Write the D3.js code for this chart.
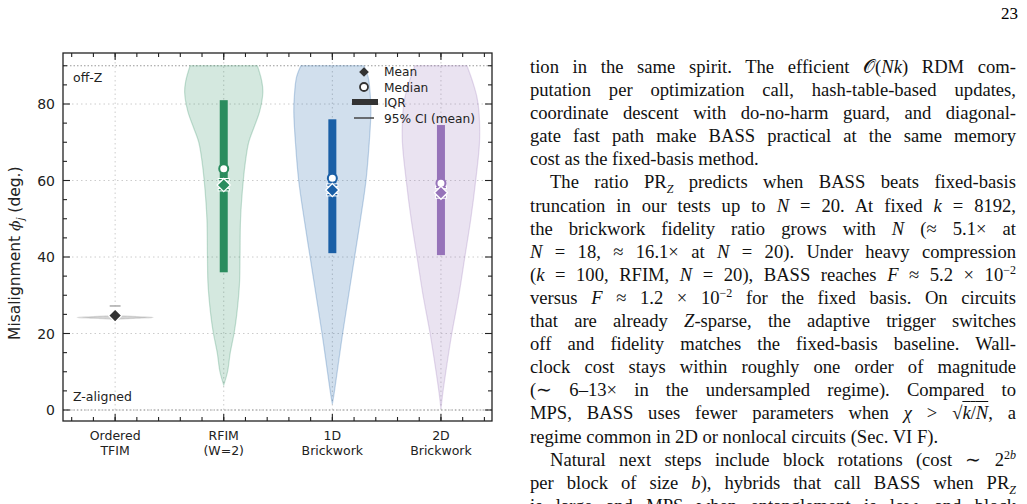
<!DOCTYPE html>
<html><head><meta charset="utf-8">
<script src="https://cdn.jsdelivr.net/npm/d3@7"></script>
<style>
body{margin:0;width:1027px;height:504px;background:#fff;overflow:hidden;position:relative}
#chart{position:absolute;left:0;top:0}
.pg{position:absolute;right:9px;top:4px;font:17px "Liberation Serif",serif}
#txt{position:absolute;left:530px;top:55px;width:486px;font:18.6px "Liberation Serif",serif;color:#111}
#txt div{height:23.1px;line-height:23.1px;text-align:justify;text-align-last:justify;white-space:nowrap}
#txt div.last{text-align-last:left}
#txt div.ind{padding-left:20px}
i{font-style:italic}
sub,sup{font-size:12px;line-height:0}
</style></head><body>
<div class="pg">23</div>
<div id="chart"></div>
<div id="txt">
<div>tion in the same spirit. The efficient 𝒪(<i>Nk</i>) RDM com-</div>
<div>putation per optimization call, hash-table-based updates,</div>
<div>coordinate descent with do-no-harm guard, and diagonal-</div>
<div>gate fast path make BASS practical at the same memory</div>
<div class="last">cost as the fixed-basis method.</div>
<div class="ind">The ratio PR<sub><i>Z</i></sub> predicts when BASS beats fixed-basis</div>
<div>truncation in our tests up to <i>N</i> = 20. At fixed <i>k</i> = 8192,</div>
<div>the brickwork fidelity ratio grows with <i>N</i> (≈ 5.1× at</div>
<div><i>N</i> = 18, ≈ 16.1× at <i>N</i> = 20). Under heavy compression</div>
<div>(<i>k</i> = 100, RFIM, <i>N</i> = 20), BASS reaches <i>F</i> ≈ 5.2 × 10<sup>−2</sup></div>
<div>versus <i>F</i> ≈ 1.2 × 10<sup>−2</sup> for the fixed basis. On circuits</div>
<div>that are already <i>Z</i>-sparse, the adaptive trigger switches</div>
<div>off and fidelity matches the fixed-basis baseline. Wall-</div>
<div>clock cost stays within roughly one order of magnitude</div>
<div>(∼ 6–13× in the undersampled regime). Compared to</div>
<div>MPS, BASS uses fewer parameters when <i>χ</i> &gt; √<span style="text-decoration:overline"><i>k</i>/<i>N</i></span>, a</div>
<div class="last">regime common in 2D or nonlocal circuits (Sec. VI F).</div>
<div class="ind">Natural next steps include block rotations (cost ∼ 2<sup>2<i>b</i></sup></div>
<div>per block of size <i>b</i>), hybrids that call BASS when PR<sub><i>Z</i></sub></div>
<div>is large and MPS when entanglement is low, and block</div>
</div>
<script>
const categories = ['Ordered\nTFIM', 'RFIM\n(W=2)', '1D\nBrickwork', '2D\nBrickwork'];
const colors = ['#888888', '#2a8c5e', '#1a5fa6', '#9673b9'];
const yTicks = [0, 20, 40, 60, 80];
// violin half-widths (category units) at given angles
const violins = [
    [[23.7, 0], [24.0, 0.2], [24.2, 0.35], [24.4, 0.2], [24.7, 0]],
    [[90, 0.31], [86, 0.35], [83, 0.36], [78, 0.33], [74, 0.28], [70, 0.23], [65, 0.2], [60, 0.18], [50, 0.155], [40, 0.15], [33, 0.145], [25, 0.12], [20, 0.095], [15, 0.06], [10, 0.035], [6.5, 0]],
    [[90, 0.29], [87, 0.33], [82, 0.35], [78, 0.355], [70, 0.34], [60, 0.31], [50, 0.26], [40, 0.205], [30, 0.15], [20, 0.095], [10, 0.045], [5, 0.02], [1.5, 0]],
    [[90, 0.24], [86, 0.29], [82, 0.33], [78, 0.35], [70, 0.355], [60, 0.32], [50, 0.275], [40, 0.22], [30, 0.165], [20, 0.1], [10, 0.045], [4, 0.015], [0.3, 0]]
];
const iqrLo = [null, 36, 41, 40.5];
const iqrHi = [null, 81, 76, 74.5];
const medians = [24.0, 63.1, 60.6, 59.3];
const means = [24.7, 58.8, 57.5, 56.8];
const ciLo = [null, 57.6, 56.3, 55.7];
const ciHi = [27.2, 60.2, 58.8, 58.2];

const L = 63, R = 492, T = 53, B = 421;
const svg = d3.select('#chart').append('svg').attr('width', 520).attr('height', 504)
    .style('font-family', 'DejaVu Sans');
const x = d3.scaleLinear().domain([-0.48, 3.47]).range([L, R]);
const y = d3.scaleLinear().domain([0, 80]).range([410, 104]);
const ink = '#222';

// grid
svg.append('g').selectAll('line').data([0, 20, 40, 60, 80]).join('line')
    .attr('x1', L).attr('x2', R).attr('y1', d => y(d)).attr('y2', d => y(d))
    .attr('stroke', '#ccc').attr('stroke-dasharray', '1.5,3');
svg.append('g').selectAll('line').data([0, 1, 2, 3]).join('line')
    .attr('y1', T).attr('y2', B).attr('x1', d => x(d)).attr('x2', d => x(d))
    .attr('stroke', '#ccc').attr('stroke-dasharray', '1.5,3');
svg.append('g').selectAll('line').data([0, 90]).join('line')
    .attr('x1', L).attr('x2', R).attr('y1', d => y(d)).attr('y2', d => y(d))
    .attr('stroke', '#999').attr('stroke-dasharray', '1.5,2');

// violins
violins.forEach((v, i) => {
    const path = d3.line().curve(d3.curveCatmullRom);
    const right = v.map(d => [x(i + d[1]), y(d[0])]);
    const left = v.slice().reverse().map(d => [x(i - d[1]), y(d[0])]);
    svg.append('path').attr('d', path(right.concat(left)) + 'Z')
        .attr('fill', colors[i]).attr('fill-opacity', i === 0 ? 0.35 : 0.2)
        .attr('stroke', colors[i]).attr('stroke-opacity', 0.25).attr('stroke-width', 1.2);
});

// TFIM whisker
svg.append('line').attr('x1', x(-0.05)).attr('x2', x(0.05)).attr('y1', y(ciHi[0])).attr('y2', y(ciHi[0]))
    .attr('stroke', '#aaa').attr('stroke-width', 1.5);

// IQR, CI, median
[1, 2, 3].forEach(i => {
    svg.append('rect').attr('x', x(i) - 4).attr('width', 8)
        .attr('y', y(iqrHi[i])).attr('height', y(iqrLo[i]) - y(iqrHi[i])).attr('fill', colors[i]);
    [ciLo[i], ciHi[i]].forEach(c => {
        svg.append('line').attr('x1', x(i) - 6).attr('x2', x(i) + 6).attr('y1', y(c)).attr('y2', y(c))
            .attr('stroke', '#fff').attr('stroke-width', 3.5);
        svg.append('line').attr('x1', x(i) - 5).attr('x2', x(i) + 5).attr('y1', y(c)).attr('y2', y(c))
            .attr('stroke', colors[i]).attr('stroke-width', 1.5);
    });
    svg.append('circle').attr('cx', x(i)).attr('cy', y(medians[i])).attr('r', 4.5)
        .attr('fill', '#fff').attr('stroke', colors[i]).attr('stroke-width', 2);
});
const diamond = d3.symbol().type(d3.symbolDiamond2).size(110);
means.forEach((m, i) => {
    svg.append('path').attr('d', diamond).attr('transform', `translate(${x(i)},${y(m)})`)
        .attr('fill', i === 0 ? '#333' : colors[i]).attr('stroke', '#fff').attr('stroke-width', 1.3);
});

// frame + ticks (inward, all sides)
svg.append('rect').attr('x', L).attr('y', T).attr('width', R - L).attr('height', B - T)
    .attr('fill', 'none').attr('stroke', ink).attr('stroke-width', 1.3);
const yMinor = d3.range(0, 94, 5);
[L, R].forEach((px, s) => {
    const dir = s ? -1 : 1;
    svg.append('g').selectAll('line').data(yMinor).join('line')
        .attr('x1', px).attr('x2', d => px + dir * (d % 20 === 0 ? 7 : 4))
        .attr('y1', d => y(d)).attr('y2', d => y(d)).attr('stroke', ink).attr('stroke-width', 1.1);
});
const xMinor = d3.range(-0.4, 3.45, 0.2);
[T, B].forEach((py, s) => {
    const dir = s ? -1 : 1;
    svg.append('g').selectAll('line').data(xMinor).join('line')
        .attr('y1', py).attr('y2', py + dir * 4)
        .attr('x1', d => x(d)).attr('x2', d => x(d)).attr('stroke', ink).attr('stroke-width', 1.1);
    svg.append('g').selectAll('line').data([0, 1, 2, 3]).join('line')
        .attr('y1', py).attr('y2', py + dir * 7)
        .attr('x1', d => x(d)).attr('x2', d => x(d)).attr('stroke', ink).attr('stroke-width', 1.1);
});
svg.append('g').selectAll('text').data(yTicks).join('text')
    .attr('x', L - 8).attr('y', d => y(d) + 5).attr('text-anchor', 'end')
    .attr('font-size', 14).attr('fill', ink).text(d => d);
categories.forEach((c, i) => {
    c.split('\n').forEach((t, k) => {
        svg.append('text').attr('x', x(i)).attr('y', 440 + k * 14.5).attr('text-anchor', 'middle')
            .attr('font-size', 12.5).attr('fill', ink).text(t);
    });
});
const yl = svg.append('text').attr('transform', `translate(20,${y(41)}) rotate(-90)`)
    .attr('text-anchor', 'middle').attr('font-size', 15.5).attr('fill', ink);
yl.append('tspan').text('Misalignment ');
yl.append('tspan').attr('font-style', 'italic').attr('font-family', 'DejaVu Serif').text('ϕ');
yl.append('tspan').attr('font-style', 'italic').attr('font-size', 10).attr('dy', 4).text('j');
yl.append('tspan').attr('dy', -4).text(' (deg.)');

svg.append('text').attr('x', 73).attr('y', 82).attr('font-size', 12.5).attr('fill', ink).text('off-Z');
svg.append('text').attr('x', 73).attr('y', 401).attr('font-size', 12.5).attr('fill', ink).text('Z-aligned');

// legend
const lg = svg.append('g').attr('font-size', 12.2).attr('fill', ink);
const lx = 364;
lg.append('path').attr('d', d3.symbol().type(d3.symbolDiamond2).size(60)).attr('transform', `translate(${lx},72)`).attr('fill', '#333');
lg.append('circle').attr('cx', lx).attr('cy', 87).attr('r', 4).attr('fill', '#fff').attr('stroke', '#333').attr('stroke-width', 1.8);
lg.append('rect').attr('x', lx - 12).attr('y', 99).attr('width', 26).attr('height', 6).attr('fill', '#333');
lg.append('line').attr('x1', lx - 10).attr('x2', lx + 10).attr('y1', 118).attr('y2', 118).attr('stroke', '#444').attr('stroke-width', 1.5);
['Mean', 'Median', 'IQR', '95% CI (mean)'].forEach((t, k) => {
    lg.append('text').attr('x', 384).attr('y', 76 + k * 15.5).text(t);
});
</script>
</body></html>
